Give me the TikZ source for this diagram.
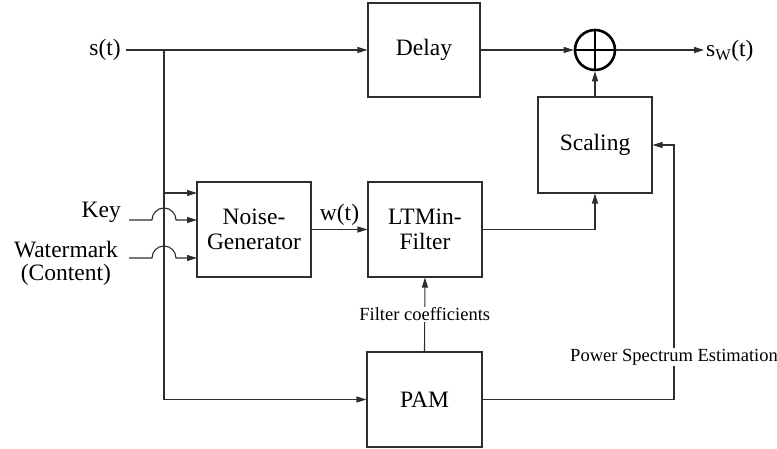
\documentclass[tikz,border=0pt]{standalone}
\usepackage{fontspec}
\setmainfont{Liberation Serif}
\usepackage{xcolor}
\definecolor{ink}{HTML}{2E2E2E}
\usepackage{tikz}
\usetikzlibrary{positioning,arrows.meta,calc}
\tikzset{
  >={Triangle[length=10pt,width=6pt]},
  blk/.style={draw=ink,fill=white,line width=1.1pt,align=center,inner sep=0pt,
    font=\fontsize{23.5}{25}\selectfont,minimum width=114pt,minimum height=95pt},
  sumc/.style={circle,draw=black,line width=2.6pt,minimum size=40pt,inner sep=0pt},
  flow/.style={->,draw=ink,line width=1.1pt},
  wire/.style={draw=ink,line width=1.1pt},
  lbl/.style={font=\fontsize{23.5}{23}\selectfont,inner sep=0pt,align=center},
  slbl/.style={font=\fontsize{18.5}{20}\selectfont,inner sep=1pt,fill=white},
}
\begin{document}
\begin{tikzpicture}[x=1pt,y=1pt]
  \useasboundingbox (0,0) rectangle (777,449);
  % blocks
  \node[blk,minimum width=112pt,minimum height=94pt] (delay) at (424,399) {Delay};
  \node[blk] (noise) at (254,219.5) {Noise-\\Generator};
  \node[blk] (ltm) at (425,219.5) {LTMin-\\Filter};
  \node[blk,minimum height=96pt] (scal) at (595,304) {Scaling};
  \node[blk,minimum width=115pt] (pam) at (424.5,49.5) {PAM};
  \node[sumc] (add) at (595,399) {};
  \draw[black,line width=2.6pt] (add.north) -- (add.south) (add.west) -- (add.east);
  % inputs
  \node[lbl,anchor=east] (sin) at (121,399) {s(t)};
  \node[lbl,anchor=base east] (key) at (121,231) {Key};
  \node[lbl,anchor=east] (wm) at (118,186) {Watermark\\(Content)};
  \coordinate (s0) at (126,399);
  \coordinate (br) at (164,399);
  \coordinate (k0) at (129,229);
  \coordinate (w0) at (129,191);
  \coordinate (n1) at (197,256);
  \coordinate (n2) at (197,229);
  \coordinate (n3) at (197,191);
  \draw[flow] (s0) -- (delay.west);
  \draw[flow] (br) |- (pam.west);
  \draw[flow] (br |- n1) -- (n1);
  \draw[flow] (k0) -- ++(23,0) arc[start angle=180,end angle=0,radius=12] -- (n2);
  \draw[flow] (w0) -- ++(23,0) arc[start angle=180,end angle=0,radius=12] -- (n3);
  % signal path
  \draw[flow] (noise.east) -- node[lbl,above=3pt] (wt) {w(t)} (ltm.west);
  \draw[flow] (ltm.east) -| (scal.south);
  \draw[flow] (delay.east) -- (add.west);
  \draw[flow] (scal.north) -- (add.south);
  \coordinate (out) at (704,399);
  \draw[flow] (add.east) -- (out);
  \node[lbl,anchor=west] (sw) at (706,398) {s\textsubscript{W}(t)};
  % analysis
  \draw[flow] (pam.north) -- node[slbl] (fc) {Filter coefficients} (ltm.south);
  \coordinate (pse) at (674,304);
  \draw[flow] (pam.east) -| node[slbl,pos=0.583] (ps) {Power Spectrum Estimation} (pse) -- (scal.east);
\end{tikzpicture}
\end{document}
